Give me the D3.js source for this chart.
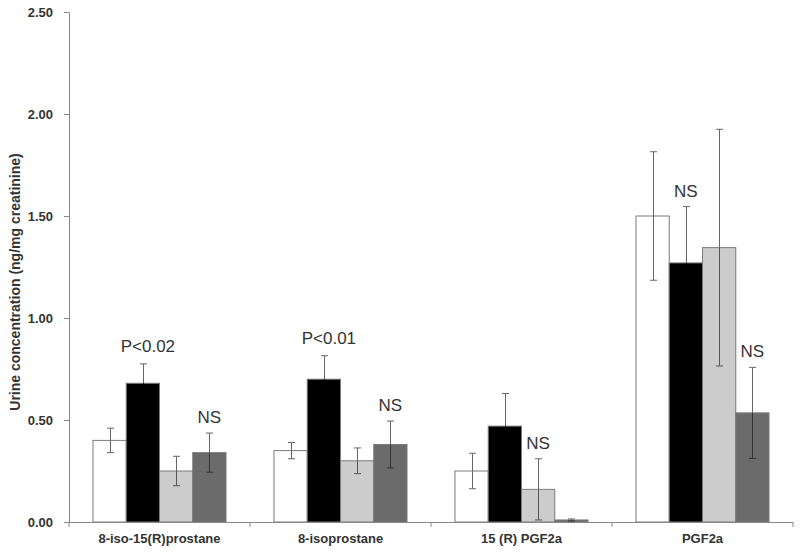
<!DOCTYPE html>
<html>
<head>
<meta charset="utf-8">
<script src="https://cdn.jsdelivr.net/npm/d3@7"></script>
<style>
  html, body { margin: 0; padding: 0; background: #fff; }
  svg { display: block; font-family: "Liberation Sans", Arial, sans-serif; }
</style>
</head>
<body>
<svg id="chart" width="800" height="552"></svg>
<script>
const categories = ["8-iso-15(R)prostane", "8-isoprostane", "15 (R) PGF2a", "PGF2a"];
const seriesNames = ["Group 1", "Group 2", "Group 3", "Group 4"];
const means1 = [0.40, 0.35, 0.25, 1.50];
const means2 = [0.68, 0.70, 0.47, 1.27];
const means3 = [0.25, 0.30, 0.16, 1.345];
const means4 = [0.34, 0.38, 0.01, 0.535];
const errs1 = [0.06, 0.04, 0.087, 0.315];
const errs2 = [0.095, 0.115, 0.16, 0.276];
const errs3 = [0.072, 0.063, 0.15, 0.58];
const errs4 = [0.096, 0.115, 0.005, 0.223];
const yTicks = [0, 0.5, 1.0, 1.5, 2.0, 2.5];
const annotations = [
  { cat: 0, series: 1, label: "P<0.02" },
  { cat: 0, series: 3, label: "NS" },
  { cat: 1, series: 1, label: "P<0.01" },
  { cat: 1, series: 3, label: "NS" },
  { cat: 2, series: 2, label: "NS" },
  { cat: 3, series: 1, label: "NS" },
  { cat: 3, series: 3, label: "NS" }
];
const yTitle = "Urine concentration (ng/mg creatinine)";

const allMeans = [means1, means2, means3, means4];
const allErrs = [errs1, errs2, errs3, errs4];
const fills = ["#ffffff", "#000000", "#cccccc", "#6b6b6b"];
const errLower = ["#666", "#000", "#555", "#333"];

const svg = d3.select("#chart");
const mLeft = 69, mRight = 793, mTop = 12, mBottom = 522;

const y = d3.scaleLinear().domain([0, 2.5]).range([mBottom, mTop]);
const x0 = d3.scaleBand().domain(d3.range(categories.length))
  .range([mLeft, mRight]).paddingInner(0.265).paddingOuter(0.1325);
const x1 = d3.scaleBand().domain(d3.range(seriesNames.length))
  .range([0, x0.bandwidth()]).padding(0);

// Bars
const data = [];
categories.forEach((c, ci) => {
  seriesNames.forEach((s, si) => {
    data.push({ ci, si, v: allMeans[si][ci], e: allErrs[si][ci] });
  });
});

svg.append("g").selectAll("rect").data(data).join("rect")
  .attr("x", d => x0(d.ci) + x1(d.si))
  .attr("y", d => y(d.v))
  .attr("width", x1.bandwidth())
  .attr("height", d => y(0) - y(d.v))
  .attr("fill", d => fills[d.si])
  .attr("stroke", "#7a7a7a")
  .attr("stroke-width", 1);

// Error bars
const eg = svg.append("g").attr("stroke-width", 1);
data.forEach(d => {
  const cx = Math.round(x0(d.ci) + x1(d.si) + x1.bandwidth() / 2) + 0.5;
  const ym = y(d.v);
  const yt = y(d.v + d.e), yb = y(Math.max(0, d.v - d.e));
  eg.append("line").attr("x1", cx).attr("x2", cx).attr("y1", yt).attr("y2", ym).attr("stroke", "#666");
  eg.append("line").attr("x1", cx - 3.5).attr("x2", cx + 3.5).attr("y1", yt).attr("y2", yt).attr("stroke", "#666");
  eg.append("line").attr("x1", cx).attr("x2", cx).attr("y1", ym).attr("y2", yb).attr("stroke", errLower[d.si]);
  eg.append("line").attr("x1", cx - 3.5).attr("x2", cx + 3.5).attr("y1", yb).attr("y2", yb).attr("stroke", errLower[d.si]);
});

// Y axis
const yAxis = d3.axisLeft(y).tickValues(yTicks).tickFormat(d3.format(".2f")).tickSize(5).tickSizeOuter(0);
const yg = svg.append("g").attr("transform", `translate(${mLeft},0)`).call(yAxis);
yg.select(".domain").attr("stroke", "#888");
yg.selectAll(".tick line").attr("stroke", "#888");
yg.selectAll(".tick text").attr("font-size", 13).attr("font-weight", "bold").attr("fill", "#333").attr("x", -16);

// X axis line and boundary ticks
const xg = svg.append("g");
xg.append("line").attr("x1", mLeft).attr("x2", mRight).attr("y1", mBottom + 0.5).attr("y2", mBottom + 0.5).attr("stroke", "#888");
const step = x0.step();
d3.range(categories.length + 1).forEach(i => {
  const bx = mLeft + i * step;
  xg.append("line").attr("x1", bx).attr("x2", bx).attr("y1", mBottom).attr("y2", mBottom + 5).attr("stroke", "#888");
});
xg.selectAll("text.cat").data(categories).join("text")
  .attr("class", "cat")
  .attr("x", (d, i) => x0(i) + x0.bandwidth() / 2)
  .attr("y", mBottom + 21)
  .attr("text-anchor", "middle")
  .attr("font-size", 13)
  .attr("font-weight", "bold")
  .attr("fill", "#333")
  .text(d => d);

// Y title
svg.append("text")
  .attr("transform", `translate(20,282) rotate(-90)`)
  .attr("text-anchor", "middle")
  .attr("font-size", 14)
  .attr("font-weight", "bold")
  .attr("fill", "#333")
  .text(yTitle);

// Annotations
svg.append("g").selectAll("text").data(annotations).join("text")
  .attr("x", d => x0(d.cat) + x1(d.series) + x1.bandwidth() / 2 + (d.label.length > 2 ? 5 : 0))
  .attr("y", d => y(allMeans[d.series][d.cat] + allErrs[d.series][d.cat]) - (d.label.length > 2 ? 12 : 10))
  .attr("text-anchor", "middle")
  .attr("font-size", 17)
  .attr("fill", "#333")
  .text(d => d.label);
</script>
</body>
</html>
